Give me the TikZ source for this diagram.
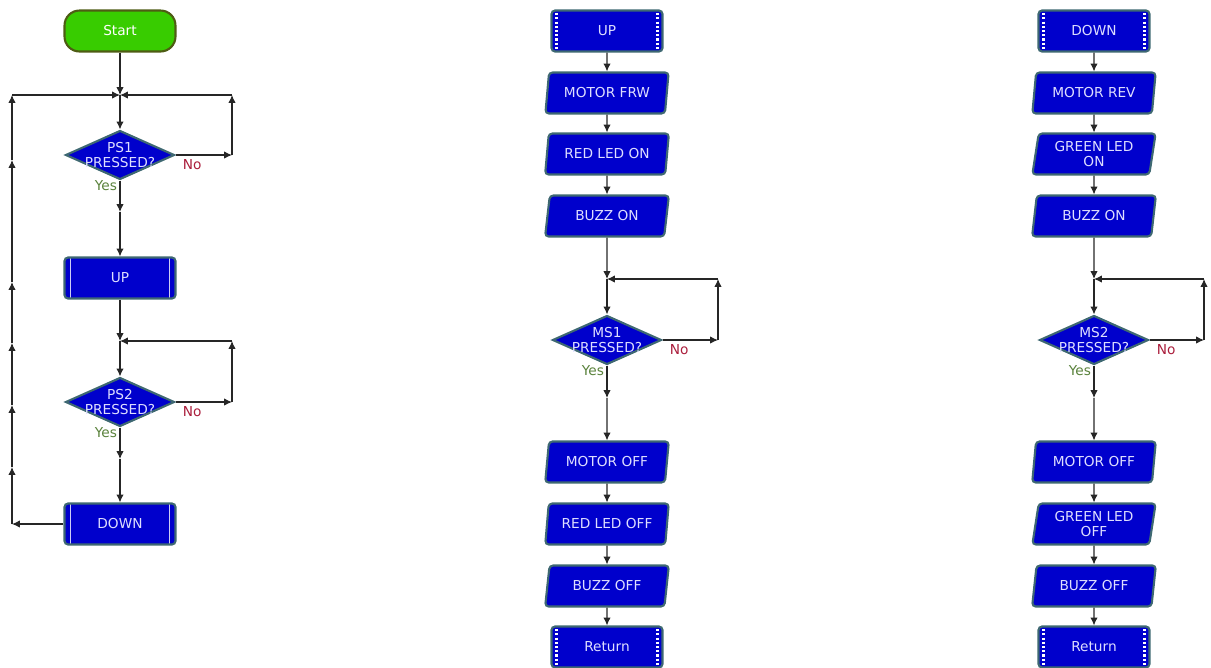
\documentclass[tikz,border=0pt]{standalone}
\usepackage{fontspec}
\setsansfont{DejaVu Sans}
\usetikzlibrary{positioning, arrows.meta, shapes.geometric, calc}

\definecolor{boxblue}{RGB}{0,0,204}
\definecolor{boxedge}{RGB}{62,104,114}
\definecolor{boxtext}{RGB}{222,222,255}
\definecolor{startgreen}{RGB}{56,204,0}
\definecolor{startedge}{RGB}{78,92,20}
\definecolor{yesgreen}{RGB}{90,130,60}
\definecolor{nored}{RGB}{170,30,60}

\begin{document}
\begin{tikzpicture}[
		x=0.02cm, y=-0.02cm,
		font=\sffamily\fontsize{7.8}{8.6}\selectfont,
		arr/.style={-{Latex[length=4.5pt,width=4.2pt]}, line width=0.6pt, draw=black!85},
		startbox/.style={draw=startedge, line width=1.2pt, fill=startgreen, text=white, rounded corners=0.3cm, minimum width=2.22cm, minimum height=0.82cm},
		callbox/.style={draw=boxedge, line width=1.2pt, fill=boxblue, text=boxtext, rounded corners=2pt, minimum width=2.22cm, minimum height=0.82cm,
				path picture={
						\draw[white!80!boxblue, line width=1.1pt] ([xshift=0.12cm]path picture bounding box.north west) -- ([xshift=0.12cm]path picture bounding box.south west);
						\draw[white!80!boxblue, line width=1.1pt] ([xshift=-0.12cm]path picture bounding box.north east) -- ([xshift=-0.12cm]path picture bounding box.south east);
					}},
		subbox/.style={draw=boxedge, line width=1.2pt, fill=boxblue, text=boxtext, rounded corners=2pt, minimum width=2.22cm, minimum height=0.82cm,
				path picture={
						\draw[white, line width=1.3pt, dash pattern=on 1.2pt off 1.2pt] ([xshift=0.1cm, yshift=-1.5pt]path picture bounding box.north west) -- ([xshift=0.1cm, yshift=1.5pt]path picture bounding box.south west);
						\draw[white, line width=1.3pt, dash pattern=on 1.2pt off 1.2pt] ([xshift=-0.1cm, yshift=-1.5pt]path picture bounding box.north east) -- ([xshift=-0.1cm, yshift=1.5pt]path picture bounding box.south east);
					}},
		iobox/.style={trapezium, trapezium left angle=82, trapezium right angle=98, trapezium stretches=true, draw=boxedge, line width=1.2pt, fill=boxblue, text=boxtext, rounded corners=2pt, align=center, minimum width=2.48cm, minimum height=0.82cm},
		decision/.style={diamond, draw=boxedge, line width=1.2pt, fill=boxblue, inner sep=0pt, minimum width=2.18cm, minimum height=0.98cm,
				label={[text=boxtext, align=center]center:#1}},
		yes/.style={text=yesgreen, inner sep=0pt, anchor=north east},
		no/.style={text=nored, inner sep=0pt, anchor=north west}
	]

	\useasboundingbox (0,0) rectangle (1211,667);

	% Programa principal
	\node[startbox] (start) at (120,31) {Start};
	\coordinate (j1) at (120,95);
	\node[decision={PS1\\PRESSED?}] (ps1) at (120,155) {};
	\coordinate (r1b) at (232,155);
	\coordinate (r1t) at (232,95);
	\coordinate (m1) at (120,212);
	\node[callbox] (up) at (120,278) {UP};
	\coordinate (j2) at (120,341);
	\node[decision={PS2\\PRESSED?}] (ps2) at (120,402) {};
	\coordinate (r2b) at (232,402);
	\coordinate (r2t) at (232,341);
	\coordinate (m2) at (120,459);
	\node[callbox] (down) at (120,524) {DOWN};

	\node[yes] (ps1y) at ([xshift=-1.5pt]ps1.south) {Yes};
	\node[no] (ps1n) at ([xshift=4pt, yshift=-2.5pt]ps1.east) {No};
	\node[yes] (ps2y) at ([xshift=-1.5pt]ps2.south) {Yes};
	\node[no] (ps2n) at ([xshift=4pt, yshift=-2.5pt]ps2.east) {No};

	\draw[arr] (start) -- (j1);
	\draw[arr] (j1) -- (ps1);
	\draw[arr] (ps1.east) -- (r1b);
	\draw[arr] (r1b) -- (r1t);
	\draw[arr] (r1t) -- (j1);
	\draw[arr] (ps1.south) -- (m1);
	\draw[arr] (m1) -- (up);
	\draw[arr] (up) -- (j2);
	\draw[arr] (j2) -- (ps2);
	\draw[arr] (ps2.east) -- (r2b);
	\draw[arr] (r2b) -- (r2t);
	\draw[arr] (r2t) -- (j2);
	\draw[arr] (ps2.south) -- (m2);
	\draw[arr] (m2) -- (down);

	% Lazo de retorno
	\coordinate (lb) at (12,524);
	\coordinate (lt) at (12,95);
	\foreach \y [count=\i] in {467,405,343,282,160}
	\coordinate (l\i) at (12,\y);
	\draw[arr] (down.west) -- (lb);
	\draw[arr] (lb) -- (l1);
	\foreach \i [count=\j from 2] in {1,...,4}
	\draw[arr] (l\i) -- (l\j);
	\draw[arr] (l5) -- (lt);
	\draw[arr] (lt) -- (j1);

	% Subrutina UP
	\node[subbox] (upS) at (607,31) {UP};
	\node[iobox] (mfrw) at (607,93) {MOTOR FRW};
	\node[iobox] (redon) at (607,154) {RED LED ON};
	\node[iobox] (buzon1) at (607,216) {BUZZ ON};
	\coordinate (j3) at (607,279);
	\node[decision={MS1\\PRESSED?}] (ms1) at (607,340) {};
	\coordinate (r3b) at (718,340);
	\coordinate (r3t) at (718,279);
	\coordinate (m3) at (607,398);
	\node[iobox] (moff1) at (607,462) {MOTOR OFF};
	\node[iobox] (redoff) at (607,524) {RED LED OFF};
	\node[iobox] (buzoff1) at (607,586) {BUZZ OFF};
	\node[subbox] (ret1) at (607,647) {Return};

	\node[yes] (ms1y) at ([xshift=-1.5pt]ms1.south) {Yes};
	\node[no] (ms1n) at ([xshift=4pt, yshift=-2.5pt]ms1.east) {No};

	\draw[arr] (upS) -- (mfrw);
	\draw[arr] (mfrw) -- (redon);
	\draw[arr] (redon) -- (buzon1);
	\draw[arr] (buzon1) -- (j3);
	\draw[arr] (j3) -- (ms1);
	\draw[arr] (ms1.east) -- (r3b);
	\draw[arr] (r3b) -- (r3t);
	\draw[arr] (r3t) -- (j3);
	\draw[arr] (ms1.south) -- (m3);
	\draw[arr] (m3) -- (moff1);
	\draw[arr] (moff1) -- (redoff);
	\draw[arr] (redoff) -- (buzoff1);
	\draw[arr] (buzoff1) -- (ret1);

	% Subrutina DOWN
	\node[subbox] (downS) at (1094,31) {DOWN};
	\node[iobox] (mrev) at (1094,93) {MOTOR REV};
	\node[iobox] (greenon) at (1094,154) {GREEN LED\\ON};
	\node[iobox] (buzon2) at (1094,216) {BUZZ ON};
	\coordinate (j4) at (1094,279);
	\node[decision={MS2\\PRESSED?}] (ms2) at (1094,340) {};
	\coordinate (r4b) at (1204,340);
	\coordinate (r4t) at (1204,279);
	\coordinate (m4) at (1094,398);
	\node[iobox] (moff2) at (1094,462) {MOTOR OFF};
	\node[iobox] (greenoff) at (1094,524) {GREEN LED\\OFF};
	\node[iobox] (buzoff2) at (1094,586) {BUZZ OFF};
	\node[subbox] (ret2) at (1094,647) {Return};

	\node[yes] (ms2y) at ([xshift=-1.5pt]ms2.south) {Yes};
	\node[no] (ms2n) at ([xshift=4pt, yshift=-2.5pt]ms2.east) {No};

	\draw[arr] (downS) -- (mrev);
	\draw[arr] (mrev) -- (greenon);
	\draw[arr] (greenon) -- (buzon2);
	\draw[arr] (buzon2) -- (j4);
	\draw[arr] (j4) -- (ms2);
	\draw[arr] (ms2.east) -- (r4b);
	\draw[arr] (r4b) -- (r4t);
	\draw[arr] (r4t) -- (j4);
	\draw[arr] (ms2.south) -- (m4);
	\draw[arr] (m4) -- (moff2);
	\draw[arr] (moff2) -- (greenoff);
	\draw[arr] (greenoff) -- (buzoff2);
	\draw[arr] (buzoff2) -- (ret2);

\end{tikzpicture}
\end{document}
